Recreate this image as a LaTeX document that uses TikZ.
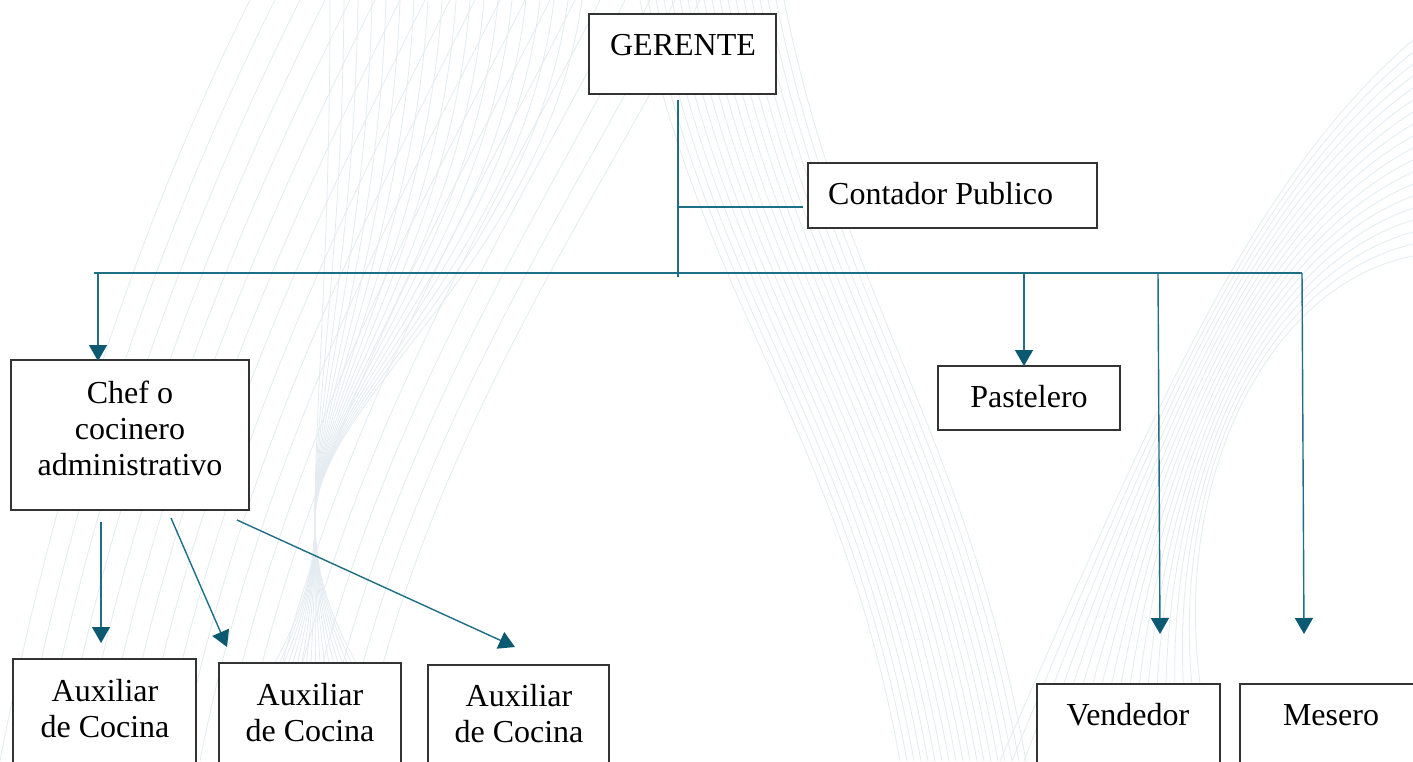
\documentclass[tikz,border=0pt]{standalone}
\usepackage{fontspec}
\setmainfont{Liberation Serif}
\usetikzlibrary{arrows.meta}
\definecolor{conn}{HTML}{1E6F86}
\definecolor{tip}{HTML}{0B5A72}
\definecolor{bgline}{RGB}{228,236,241}
\tikzset{
  box/.style={draw=black!80, line width=1.2pt, fill=white, inner sep=0pt},
  txt/.style={font=\fontsize{32}{36}\selectfont, align=center, inner sep=0pt},
  conline/.style={draw=conn, line width=1.4pt},
  arr/.style={conline, -{Triangle[width=18pt,length=16pt,fill=tip,color=tip]}},
  wave/.style={draw=bgline, line width=0.8pt}
}
\begin{document}
\begin{tikzpicture}[x=1pt,y=-1pt]
\clip (0,0) rectangle (1413,761);
\fill[white] (0,0) rectangle (1413,761);
% background waves
\foreach \i in {0,...,18}{
  \draw[wave] (330+14*\i,0) .. controls (330+12*\i,260) and (315,400) .. (315,520)
              .. controls (315,640) and (235+9*\i,700) .. (235+9*\i,761);
  \draw[wave] (640+8*\i,0) .. controls (700+8*\i,300) and (840+7*\i,430) .. (900+7*\i,761);
  \draw[wave] (1413,40+12*\i) .. controls (1250,180+6*\i) and (1150,420+6*\i) .. (1000+12*\i,761);
  \draw[wave] (20*\i,761) .. controls (60+20*\i,450) and (150+25*\i,200) .. (250+25*\i,0);
}
% boxes
\node[box, minimum width=187pt, minimum height=80pt] (ger) at (682.5,54) {};
\node[txt] (gert) at (683,45) {GERENTE};
\node[box, minimum width=289pt, minimum height=65pt] (cont) at (952.5,195.5) {};
\node[txt, anchor=west] (contt) at (828,194) {Contador Publico};
\node[box, minimum width=238pt, minimum height=150pt] (chef) at (130,435) {};
\node[txt] (cheft) at (130,428) {Chef o\\cocinero\\administrativo};
\node[box, minimum width=182pt, minimum height=64pt] (past) at (1029,398) {};
\node[txt] (pastt) at (1029,397) {Pastelero};
\node[box, minimum width=183pt, minimum height=140pt] (aux1) at (104.5,729) {};
\node[txt] (aux1t) at (105,709) {Auxiliar\\de Cocina};
\node[box, minimum width=182pt, minimum height=140pt] (aux2) at (310,733) {};
\node[txt] (aux2t) at (310,713) {Auxiliar\\de Cocina};
\node[box, minimum width=181pt, minimum height=140pt] (aux3) at (518.5,735) {};
\node[txt] (aux3t) at (519,714) {Auxiliar\\de Cocina};
\node[box, minimum width=183pt, minimum height=140pt] (vend) at (1128.5,754) {};
\node[txt] (vendt) at (1128,715) {Vendedor};
\node[box, minimum width=183pt, minimum height=140pt] (mes) at (1331.5,754) {};
\node[txt] (mest) at (1331,715) {Mesero};
% connector coordinates
\coordinate (gtop) at (678,100);
\coordinate (gbot) at (678,277);
\coordinate (cj) at (679,207);
\coordinate (ce) at (803,207);
\coordinate (hl) at (94,273);
\coordinate (hr) at (1302,273);
\coordinate (c1) at (98,273);
\coordinate (c2) at (1024,273);
\coordinate (c3) at (1158,273);
\coordinate (c4) at (1302,273);
\coordinate (e1) at (98,361);
\coordinate (e2) at (1024,366);
\coordinate (e3) at (1160,634);
\coordinate (e4) at (1304,634);
\coordinate (a1s) at (101,522);
\coordinate (a1e) at (101,643);
\coordinate (a2s) at (171,518);
\coordinate (a2e) at (227,647);
\coordinate (a3s) at (237,520);
\coordinate (a3e) at (515,647);
% connectors
\draw[conline] (gtop) -- (gbot);
\draw[conline] (cj) -- (ce);
\draw[conline] (hl) -- (hr);
\draw[arr] (c1) -- (e1);
\draw[arr] (c2) -- (e2);
\draw[arr] (c3) -- (e3);
\draw[arr] (c4) -- (e4);
\draw[arr] (a1s) -- (a1e);
\draw[arr] (a2s) -- (a2e);
\draw[arr] (a3s) -- (a3e);
\end{tikzpicture}
\end{document}
